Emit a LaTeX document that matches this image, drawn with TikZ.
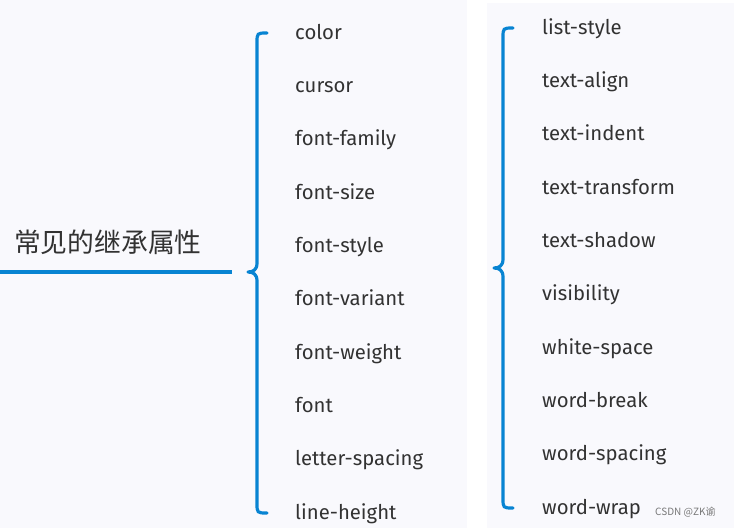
\documentclass[tikz,border=0pt]{standalone}
\usepackage{fontspec}
\setmainfont{Fira Sans}
\newfontfamily\itemfont{Fira Sans}
\newfontfamily\cjk{Noto Sans CJK SC}
\definecolor{panelbg}{RGB}{249,249,253}
\definecolor{bracecol}{RGB}{8,132,210}
\definecolor{labelcol}{RGB}{50,50,50}
\definecolor{markcol}{RGB}{120,120,120}
\tikzset{
  item/.style={anchor=base west, inner sep=0pt, text=labelcol, font=\itemfont\fontsize{20.3}{23}\selectfont},
  bracepath/.style={draw=bracecol, line width=3.2pt, line cap=round, line join=round},
  rootline/.style={draw=bracecol, line width=3.6pt},
}
\begin{document}
\begin{tikzpicture}[x=1pt,y=-1pt]
\useasboundingbox (0,0) rectangle (734,528);
\fill[white] (0,0) rectangle (734,528);
\fill[panelbg] (0,0) rectangle (467,528);
\fill[panelbg] (487,3) rectangle (734,528);
% root
\node[anchor=west, inner sep=0pt, text=labelcol, font=\cjk\fontsize{26.8}{30}\selectfont] (root) at (14,242) {常见的继承属性};
\coordinate (rootL) at (0,272);
\coordinate (rootR) at (232,272);
\draw[rootline] (rootL) -- (rootR);
% left brace
\draw[bracepath] (267,33) .. controls (257,33) .. (257,43) -- (257,263)
   .. controls (257,270) and (253,272) .. (248,272)
   .. controls (253,272) and (257,274) .. (257,281) -- (257,503)
   .. controls (257,513) .. (267,513);
% right brace
\draw[bracepath] (513,28) .. controls (503,28) .. (503,38) -- (503,259)
   .. controls (503,266) and (499,268) .. (494,268)
   .. controls (499,268) and (503,270) .. (503,277) -- (503,498)
   .. controls (503,508) .. (513,508);
% left items
\node[item] (l1) at (295,39) {color};
\node[item] (l2) at (295,92.3) {cursor};
\node[item] (l3) at (295,145.7) {font-family};
\node[item] (l4) at (295,199) {font-size};
\node[item] (l5) at (295,252.3) {font-style};
\node[item] (l6) at (295,305.7) {font-variant};
\node[item] (l7) at (295,359) {font-weight};
\node[item] (l8) at (295,412.3) {font};
\node[item] (l9) at (295,465.7) {letter-spacing};
\node[item] (l10) at (295,519) {line-height};
% right items
\node[item] (r1) at (542,34) {list-style};
\node[item] (r2) at (542,87.3) {text-align};
\node[item] (r3) at (542,140.7) {text-indent};
\node[item] (r4) at (542,194) {text-transform};
\node[item] (r5) at (542,247.3) {text-shadow};
\node[item] (r6) at (542,300.7) {visibility};
\node[item] (r7) at (542,354) {white-space};
\node[item] (r8) at (542,407.3) {word-break};
\node[item] (r9) at (542,460.7) {word-spacing};
\node[item] (r10) at (542,514) {word-wrap};
% watermark
\node[anchor=base west, inner sep=0pt, text=markcol, font=\cjk\fontsize{10}{12}\selectfont] (mark) at (655,515) {CSDN @ZK谕};
\end{tikzpicture}
\end{document}
